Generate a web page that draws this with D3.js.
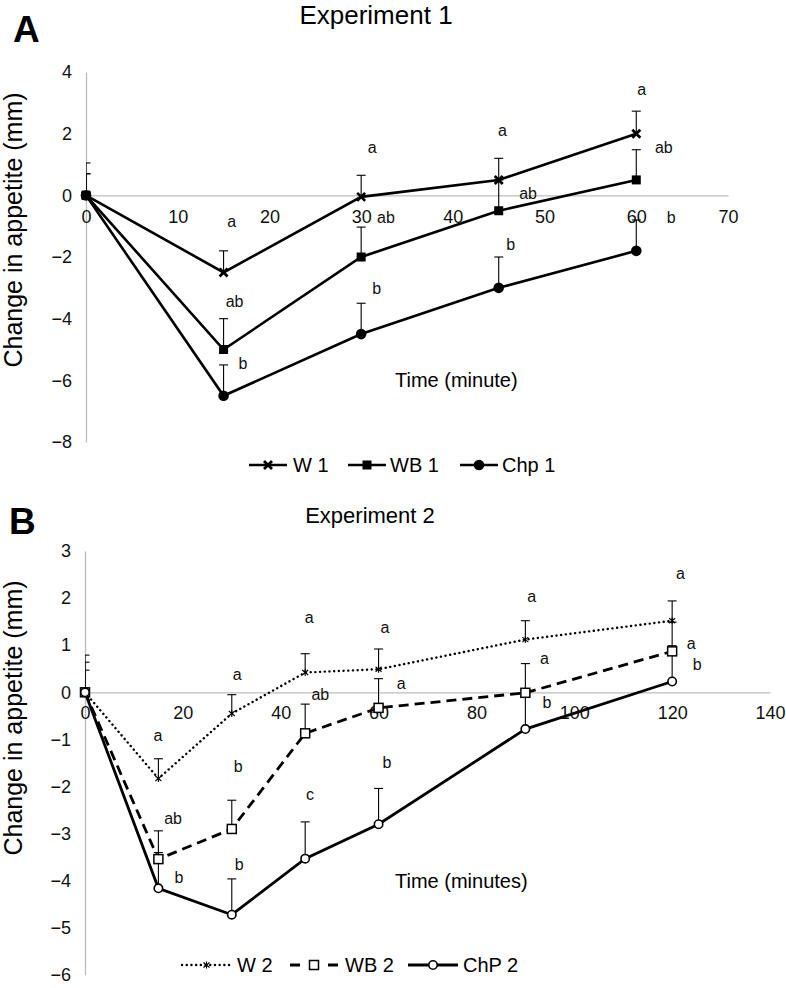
<!DOCTYPE html>
<html><head><meta charset="utf-8">
<script src="https://cdn.jsdelivr.net/npm/d3@7"></script>
<style>body{margin:0;background:#fff} text{font-family:"Liberation Sans",Arial,sans-serif}</style>
</head><body><svg id="c" width="786" height="988"></svg>
<script>
// ---------- DATA ----------
const timesA = [0, 15, 30, 45, 60];
const w1 = [0, -2.5, -0.05, 0.5, 2.0];
const w1Err = [1.05, 0.7, 0.7, 0.7, 0.73];
const wb1 = [0, -5.0, -2.0, -0.5, 0.5];
const wb1Err = [0.7, 1.0, 0.97, 1.0, 0.98];
const chp1 = [0, -6.5, -4.5, -3.0, -1.8];
const chp1Err = [0.7, 1.0, 1.0, 1.0, 1.0];
const lettersW1 = ["", "a", "a", "a", "a"];
const lettersWB1 = ["", "ab", "ab", "ab", "ab"];
const lettersChp1 = ["", "b", "b", "b", "b"];
const xTicksA = [0, 10, 20, 30, 40, 50, 60, 70];
const yTicksA = [4, 2, 0, -2, -4, -6, -8];

const timesB = [0, 15, 30, 45, 60, 90, 120];
const w2 = [0, -1.83, -0.45, 0.42, 0.49, 1.12, 1.52];
const w2Err = [0.79, 0.42, 0.4, 0.4, 0.43, 0.4, 0.42];
const wb2 = [0, -3.54, -2.9, -0.87, -0.33, -0.01, 0.87];
const wb2Err = [0.64, 0.6, 0.61, 0.62, 0.62, 0.62, 0.62];
const chp2 = [0, -4.16, -4.72, -3.53, -2.8, -0.78, 0.23];
const chp2Err = [0.47, 0.76, 0.76, 0.78, 0.76, 0.76, 0.76];
const lettersW2 = ["", "a", "a", "a", "a", "a", "a"];
const lettersWB2 = ["", "ab", "b", "ab", "a", "a", "a"];
const lettersChp2 = ["", "b", "b", "c", "b", "b", "b"];
const xTicksB = [0, 20, 40, 60, 80, 100, 120, 140];
const yTicksB = [3, 2, 1, 0, -1, -2, -3, -4, -5, -6];

// ---------- LAYOUT ----------
const svg = d3.select("#c");
svg.append("rect").attr("width", 786).attr("height", 988).attr("fill", "#fff");

// letter placement in data units [time, value] per series/time
const annotA = {
  W1:  [null, [15.9, -0.84], [31.2, 1.57], [45.4, 2.11], [60.6, 3.43]],
  WB1: [null, [16.2, -3.43], [32.7, -0.70], [48.2, 0.06], [63.0, 1.55]],
  Chp1:[null, [17.1, -5.44], [31.7, -3.02], [46.3, -1.59], [63.8, -0.70]]
};
const annotB = {
  W2:  [null, [14.9, -0.91], [31.1, 0.38], [45.8, 1.60], [61.3, 1.38], [91.3, 2.04], [121.7, 2.53]],
  WB2: [null, [18.0, -2.68], [31.3, -1.57], [48.1, -0.05], [64.6, 0.20], [93.9, 0.72], [123.9, 1.03]],
  ChP2:[null, [19.2, -3.92], [31.5, -3.65], [46.0, -2.17], [61.7, -1.48], [94.4, -0.21], [125.1, 0.59]]
};

const markers = {
  cross: g => g.append("path").attr("d", "M-4,-4L4,4M-4,4L4,-4").attr("stroke", "#000").attr("stroke-width", 2.8).attr("fill", "none"),
  squareF: g => g.append("rect").attr("x", -4.5).attr("y", -4.5).attr("width", 9).attr("height", 9).attr("fill", "#000"),
  circleF: g => g.append("circle").attr("r", 5.3).attr("fill", "#000"),
  star: g => g.append("path").attr("d", "M-3,-2.5L3,2.5M-3,2.5L3,-2.5M0,-3.5L0,3.5").attr("stroke", "#000").attr("stroke-width", 1.1).attr("fill", "none"),
  squareO: g => g.append("rect").attr("x", -4.5).attr("y", -4.5).attr("width", 9).attr("height", 9).attr("fill", "#fff").attr("stroke", "#000").attr("stroke-width", 1.5),
  circleO: g => g.append("circle").attr("r", 4.2).attr("fill", "#fff").attr("stroke", "#000").attr("stroke-width", 1.6)
};

function drawPanel(cfg) {
  const x = d3.scaleLinear().domain(cfg.xDomain).range(cfg.xRange);
  const y = d3.scaleLinear().domain(cfg.yDomain).range(cfg.yRange);
  const g = svg.append("g");
  const font = "Liberation Sans, Arial, sans-serif";

  g.append("text").attr("x", cfg.letterPos[0]).attr("y", cfg.letterPos[1]).attr("font-size", 37).attr("font-weight", "bold").text(cfg.letter);
  g.append("text").attr("x", cfg.titlePos[0]).attr("y", cfg.titlePos[1]).attr("text-anchor", "middle").attr("font-size", cfg.titleSize).text(cfg.title);

  const ya = d3.axisLeft(y).tickValues(cfg.yTicks).tickSize(0).tickPadding(14).tickFormat(d3.format("d"));
  const yg = g.append("g").attr("transform", `translate(${cfg.xRange[0]},0)`).call(ya);
  yg.select(".domain").attr("stroke", "#bdbdbd").attr("stroke-width", 1.3);
  yg.selectAll("text").attr("font-size", 18).attr("fill", "#111").attr("font-family", font);

  const xa = d3.axisBottom(x).tickValues(cfg.xTicks).tickSize(0).tickPadding(cfg.xPad).tickFormat(d3.format("d"));
  const xg = g.append("g").attr("transform", `translate(0,${y(0)})`).call(xa);
  xg.select(".domain").attr("stroke", "#bdbdbd").attr("stroke-width", 1.3);
  xg.selectAll("text").attr("font-size", 18).attr("fill", "#111").attr("font-family", font);

  g.append("text").attr("transform", `translate(${cfg.yTitlePos[0]},${cfg.yTitlePos[1]}) rotate(-90)`)
    .attr("text-anchor", "middle").attr("font-size", cfg.yTitleSize).text("Change in appetite (mm)");
  g.append("text").attr("x", cfg.xTitlePos[0]).attr("y", cfg.xTitlePos[1]).attr("font-size", 20).text(cfg.xTitle);

  const cid = "clip" + cfg.letter;
  svg.append("clipPath").attr("id", cid).append("rect")
    .attr("x", cfg.xRange[0]).attr("y", 0).attr("width", cfg.xRange[1] - cfg.xRange[0] + 20).attr("height", 988);

  const line = d3.line().x(d => x(d[0])).y(d => y(d[1]));

  cfg.series.forEach(s => {
    const pts = cfg.times.map((t, i) => [t, s.values[i], s.err[i]]);
    const eg = g.append("g").attr("clip-path", `url(#${cid})`);
    pts.forEach(p => {
      eg.append("line").attr("x1", x(p[0])).attr("x2", x(p[0])).attr("y1", y(p[1])).attr("y2", y(p[1] + p[2])).attr("stroke", "#000").attr("stroke-width", 1.1);
      eg.append("line").attr("x1", x(p[0]) - 4.5).attr("x2", x(p[0]) + 4.5).attr("y1", y(p[1] + p[2])).attr("y2", y(p[1] + p[2])).attr("stroke", "#000").attr("stroke-width", 1.1);
    });
  });
  cfg.series.forEach(s => {
    const pts = cfg.times.map((t, i) => [t, s.values[i]]);
    g.append("path").datum(pts).attr("d", line).attr("fill", "none").attr("stroke", "#000")
      .attr("stroke-width", s.width).attr("stroke-dasharray", s.dash || null).attr("stroke-linecap", s.cap || "butt");
  });
  cfg.series.forEach(s => {
    cfg.times.forEach((t, i) => {
      const mg = g.append("g").attr("transform", `translate(${x(t)},${y(s.values[i])})`);
      markers[s.marker](mg);
    });
    s.letters.forEach((l, i) => {
      const pos = s.annot[i];
      if (!l || !pos) return;
      g.append("text").attr("x", x(pos[0])).attr("y", y(pos[1])).attr("dy", "0.35em").attr("text-anchor", "middle")
        .attr("font-size", 16).attr("fill", "#111").text(l);
    });
  });

  cfg.series.forEach((s, i) => {
    const L = cfg.legend[i];
    const lg = g.append("g");
    lg.append("line").attr("x1", L[0]).attr("x2", L[1]).attr("y1", cfg.legendY).attr("y2", cfg.legendY)
      .attr("stroke", "#000").attr("stroke-width", s.width).attr("stroke-dasharray", s.legendDash || s.dash || null).attr("stroke-linecap", s.cap || "butt");
    const mg = lg.append("g").attr("transform", `translate(${(L[0] + L[1]) / 2},${cfg.legendY})`);
    markers[s.marker](mg);
    lg.append("text").attr("x", L[2]).attr("y", cfg.legendY).attr("dy", "0.36em").attr("font-size", 20).text(s.name);
  });
}

drawPanel({
  letter: "A", letterPos: [13, 42], title: "Experiment 1", titlePos: [376, 24], titleSize: 26,
  xDomain: [0, 70], xRange: [86, 728], yDomain: [-8, 4], yRange: [442, 72],
  xTicks: xTicksA, yTicks: yTicksA, xPad: 15,
  yTitlePos: [22, 230], yTitleSize: 25, xTitle: "Time (minute)", xTitlePos: [395, 387],
  times: timesA, legendY: 465,
  legend: [[249, 287, 293], [348, 386, 390], [460, 498, 502]],
  series: [
    { name: "W 1", values: w1, err: w1Err, marker: "cross", width: 2.6, letters: lettersW1, annot: annotA.W1 },
    { name: "WB 1", values: wb1, err: wb1Err, marker: "squareF", width: 2.6, letters: lettersWB1, annot: annotA.WB1 },
    { name: "Chp 1", values: chp1, err: chp1Err, marker: "circleF", width: 2.6, letters: lettersChp1, annot: annotA.Chp1 }
  ]
});

drawPanel({
  letter: "B", letterPos: [9, 534], title: "Experiment 2", titlePos: [370, 523], titleSize: 22,
  xDomain: [0, 140], xRange: [85, 770], yDomain: [-6, 3], yRange: [975, 551],
  xTicks: xTicksB, yTicks: yTicksB, xPad: 14,
  yTitlePos: [22, 718], yTitleSize: 25, xTitle: "Time (minutes)", xTitlePos: [395, 888],
  times: timesB, legendY: 965,
  legend: [[182, 231, 237], [290, 338, 345], [408, 458, 463]],
  series: [
    { name: "W 2", values: w2, err: w2Err, marker: "star", width: 2.4, dash: "0.1,4.6", cap: "round", letters: lettersW2, annot: annotB.W2 },
    { name: "WB 2", values: wb2, err: wb2Err, marker: "squareO", width: 2.8, dash: "10,6", legendDash: "10,28,10", letters: lettersWB2, annot: annotB.WB2 },
    { name: "ChP 2", values: chp2, err: chp2Err, marker: "circleO", width: 2.8, letters: lettersChp2, annot: annotB.ChP2 }
  ]
});
</script></body></html>
